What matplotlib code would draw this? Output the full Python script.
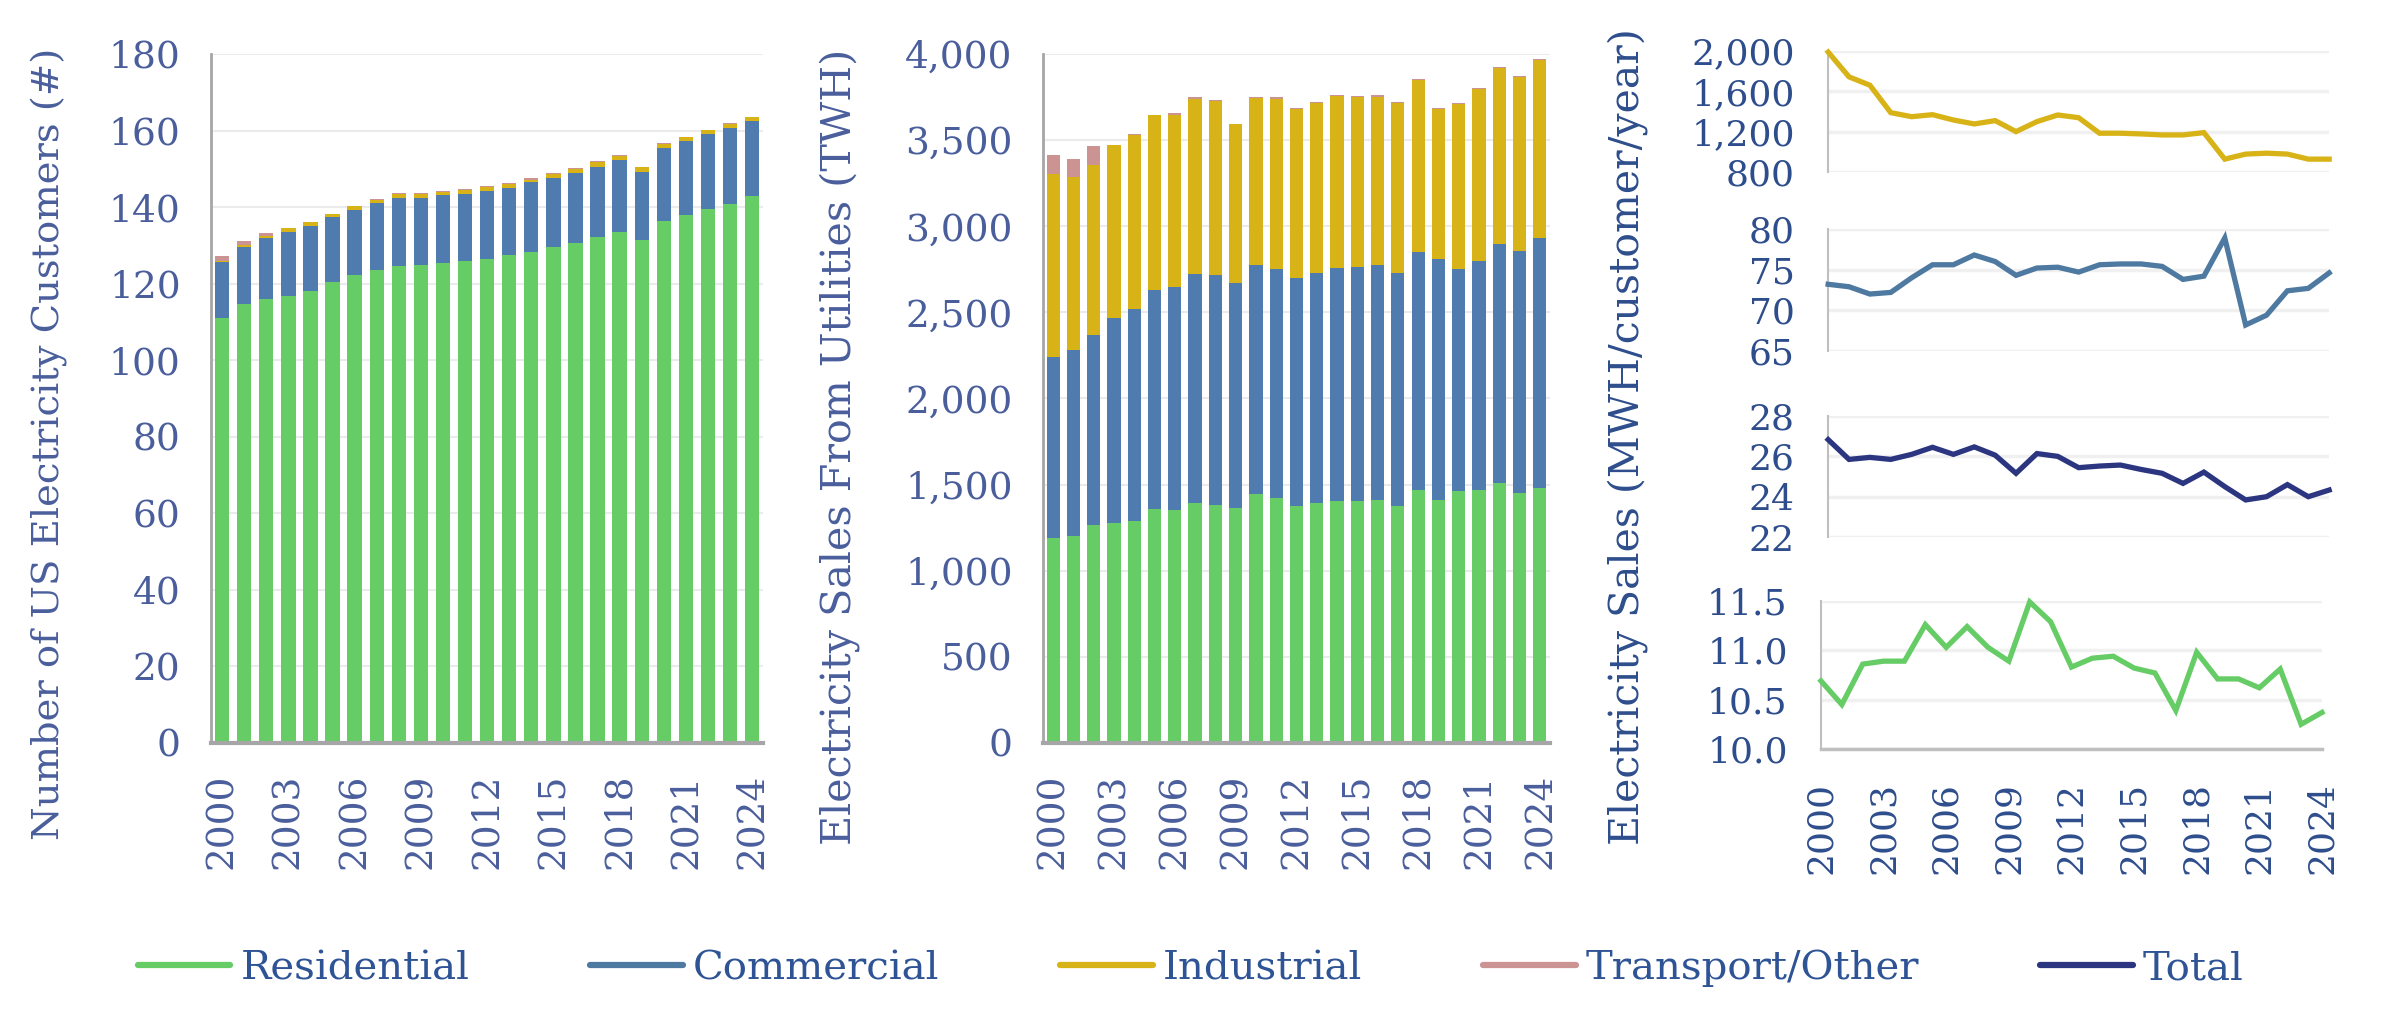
import numpy as np
import matplotlib

matplotlib.use("Agg")
import matplotlib.pyplot as plt
from matplotlib.lines import Line2D
from matplotlib.ticker import FuncFormatter

years = list(range(2000, 2025))
tick_years = [2000, 2003, 2006, 2009, 2012, 2015, 2018, 2021, 2024]

# customers (millions)
cust_residential = [111.1, 114.6, 116.1, 116.9, 118.2, 120.4, 122.2, 123.5, 124.6, 124.8, 125.4, 125.9, 126.4,
                    127.5, 128.2, 129.6, 130.6, 132.2, 133.5, 131.4, 136.4, 138.0, 139.6, 140.9, 143.0]
cust_commercial = [14.5, 15.0, 15.7, 16.7, 16.9, 17.1, 17.1, 17.7, 17.9, 17.7, 17.8, 17.6, 17.9,
                   17.6, 18.3, 17.9, 18.4, 18.4, 18.7, 17.9, 19.0, 19.2, 19.5, 19.8, 19.5]
cust_industrial = [0.4, 0.5, 0.6, 0.9, 1.0, 0.7, 1.0, 0.7, 0.9, 0.9, 0.7, 1.0, 0.9,
                   1.0, 0.7, 1.1, 0.9, 1.2, 1.1, 1.1, 1.1, 1.0, 1.0, 1.1, 1.0]
cust_other = [1.2, 1.0, 0.8, 0.1, 0.1, 0.1, 0.1, 0.3, 0.2, 0.2, 0.2, 0.2, 0.2,
              0.1, 0.3, 0.2, 0.2, 0.2, 0.2, 0.2, 0.2, 0.1, 0.1, 0.2, 0.1]

# sales (TWh)
sales_residential = [1190, 1200, 1264, 1275, 1287, 1357, 1351, 1391, 1380, 1362, 1444, 1421, 1374,
                     1391, 1403, 1403, 1409, 1374, 1469, 1409, 1461, 1469, 1508, 1452, 1481]
sales_commercial = [1050, 1081, 1104, 1192, 1232, 1273, 1296, 1332, 1337, 1309, 1331, 1331, 1326,
                    1338, 1355, 1361, 1366, 1355, 1382, 1401, 1291, 1329, 1389, 1405, 1451]
sales_industrial = [1066, 1002, 989, 1002, 1012, 1013, 1000, 1017, 1010, 920, 967, 988, 978,
                    988, 1000, 988, 977, 988, 1000, 868, 959, 999, 1024, 1011, 1035]
sales_other = [109, 108, 110, 4, 6, 4, 12, 12, 7, 4, 10, 12, 10,
               6, 6, 6, 12, 6, 6, 10, 6, 7, 5, 6, 6]

# sales per customer (MWh/customer/year)
per_industrial = [1990, 1744, 1661, 1389, 1349, 1369, 1316, 1277, 1310, 1201, 1300, 1366, 1339,
                  1185, 1185, 1178, 1168, 1168, 1191, 928, 978, 987, 978, 928, 928]
per_commercial = [73.2, 72.9, 72.0, 72.2, 74.0, 75.6, 75.6, 76.8, 76.0, 74.3, 75.2, 75.3, 74.7,
                  75.6, 75.7, 75.7, 75.4, 73.8, 74.2, 78.9, 68.2, 69.4, 72.4, 72.7, 74.6]
per_total = [26.83, 25.85, 25.95, 25.85, 26.1, 26.45, 26.1, 26.47, 26.06, 25.16, 26.14, 26.0, 25.44,
             25.52, 25.57, 25.35, 25.16, 24.66, 25.22, 24.5, 23.84, 24.0, 24.6, 24.0, 24.33]
per_residential = [10.69, 10.45, 10.86, 10.89, 10.89, 11.26, 11.03, 11.24, 11.03, 10.89, 11.49, 11.29, 10.83,
                   10.92, 10.94, 10.82, 10.77, 10.39, 10.98, 10.71, 10.71, 10.62, 10.81, 10.25, 10.37]

GREEN = "#66CC66"
BLUE = "#4F7BAF"
STEEL = "#4E79A0"
GOLD = "#D8B318"
PINK = "#CC9393"
NAVY = "#2B3580"
TICK = "#4A5E9C"
TICK_R = "#2E4D8C"
LEG = "#2F5496"
FONT = "DejaVu Serif"

plt.rcParams.update({"font.family": FONT})

fig = plt.figure(figsize=(23.96, 10.15), dpi=100)


def comma(v, _):
    return f"{v:,.0f}"


def bar_panel(rect, layers, ymax, ystep, ylabel, label_x, label_y, label_size):
    ax = fig.add_axes(rect)
    x = np.arange(len(years))
    bottom = np.zeros(len(years))
    for vals, col in layers:
        ax.bar(x, vals, bottom=bottom, width=0.65, color=col, zorder=2)
        bottom = bottom + np.asarray(vals)
    ax.set_xlim(-0.5, len(years) - 0.5)
    ax.set_ylim(0, ymax)
    ax.set_yticks(np.arange(0, ymax + 1, ystep))
    ax.yaxis.set_major_formatter(FuncFormatter(comma))
    ax.set_xticks([years.index(y) for y in tick_years])
    ax.set_xticklabels([str(y) for y in tick_years], rotation=90)
    ax.grid(axis="y", color="#EBEBEB", linewidth=1.5, zorder=0)
    for s in ("top", "right"):
        ax.spines[s].set_visible(False)
    ax.spines["left"].set_color("#A6A6A6")
    ax.spines["left"].set_linewidth(2)
    ax.spines["bottom"].set_color("#A6A6A6")
    ax.spines["bottom"].set_linewidth(3)
    ax.tick_params(length=0, labelsize=27, colors=TICK, pad=22)
    fig.text(label_x, label_y, ylabel, rotation=90, ha="center", va="center",
             fontsize=label_size, color=TICK)
    return ax


bar_panel([0.0881, 0.268, 0.2304, 0.6788],
          [(cust_residential, GREEN), (cust_commercial, BLUE), (cust_industrial, GOLD), (cust_other, PINK)],
          180, 20, "Number of US Electricity Customers (#)", 50 / 2396, 0.563, 27.7)

bar_panel([0.4353, 0.268, 0.2116, 0.6788],
          [(sales_residential, GREEN), (sales_commercial, BLUE), (sales_industrial, GOLD), (sales_other, PINK)],
          4000, 500, "Electricity Sales From Utilities (TWH)", 840 / 2396, 0.560, 29.7)

line_panels = [
    ([0.763, 0.8305, 0.2091, 0.1192], per_industrial, GOLD, (800, 2000), np.arange(800, 2001, 400), comma),
    ([0.763, 0.6542, 0.2091, 0.1202], per_commercial, STEEL, (65, 80), np.arange(65, 81, 5), comma),
    ([0.763, 0.4709, 0.2091, 0.1192], per_total, NAVY, (22, 28), np.arange(22, 29, 2), comma),
    ([0.760, 0.2621, 0.2091, 0.1458], per_residential, GREEN, (10, 11.5), np.arange(10, 11.51, 0.5),
     lambda v, _: f"{v:.1f}"),
]

for i, (rect, vals, col, ylim, yt, fmt) in enumerate(line_panels):
    ax = fig.add_axes(rect)
    ax.plot(years, vals, color=col, linewidth=3.8, solid_joinstyle="miter", zorder=3, clip_on=False)
    ax.set_xlim(2000, 2024)
    ax.set_ylim(*ylim)
    ax.set_yticks(yt)
    ax.yaxis.set_major_formatter(FuncFormatter(fmt))
    ax.grid(axis="y", color="#F0F0F0", linewidth=2.5, zorder=0)
    for s in ("top", "right"):
        ax.spines[s].set_visible(False)
    ax.spines["left"].set_color("#BFBFBF")
    ax.spines["left"].set_linewidth(1.5)
    ax.tick_params(length=0, labelsize=26, colors=TICK_R, pad=24)
    last = i == len(line_panels) - 1
    if last:
        ax.spines["bottom"].set_color("#BFBFBF")
        ax.spines["bottom"].set_linewidth(2.5)
        ax.set_xticks(tick_years)
        ax.set_xticklabels([str(y) for y in tick_years], rotation=90)
    else:
        ax.spines["bottom"].set_visible(False)
        ax.set_xticks([])

fig.text(1628 / 2396, 0.570, "Electricity Sales (MWH/customer/year)", rotation=90,
         ha="center", va="center", fontsize=29.5, color=TICK_R)

handles = [Line2D([], [], color=c, linewidth=4.5, solid_capstyle="round")
           for c in (GREEN, STEEL, GOLD, PINK, NAVY)]
labels = ["Residential", "Commercial", "Industrial", "Transport/Other", "Total"]
leg = fig.legend(handles, labels, loc="center", bbox_to_anchor=(0.497, 0.046), ncol=5,
                 frameon=False, fontsize=29, handlelength=2.3, handletextpad=0.25,
                 columnspacing=3.0)
for t in leg.get_texts():
    t.set_color(LEG)

fig.savefig("out.png", dpi=100)
